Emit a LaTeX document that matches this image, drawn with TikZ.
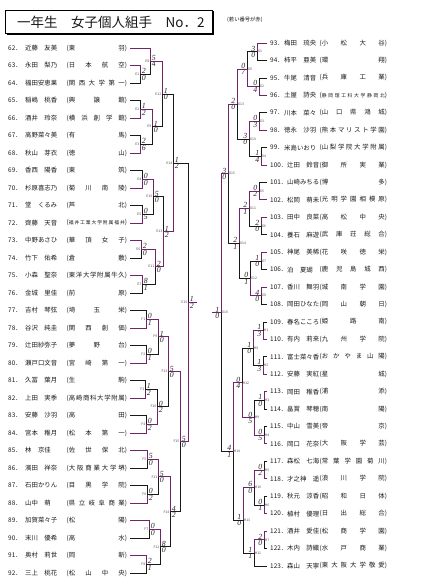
\documentclass[tikz,border=0pt]{standalone}
\usepackage{fontspec}
\setmainfont{Noto Sans CJK JP}
\newfontfamily\hand{Liberation Serif}
\usetikzlibrary{calc}
\definecolor{marker}{RGB}{112,36,106}
\newcommand{\fnorm}{\fontsize{6.4}{7}\selectfont}
\newcommand{\fsmall}{\fontsize{4.8}{5}\selectfont}
% spread the letters of a school name over its box
\def\spreadloop#1{\ifx\relax#1\else #1\expandafter\spreadnext\fi}
\def\spreadnext#1{\ifx\relax#1\else\hfill #1\expandafter\spreadnext\fi}

\begin{document}
\begin{tikzpicture}[x=1pt, y=-1pt,
  ent/.style={inner sep=0pt, anchor=west, text=black!90},
  ln/.style={draw=black!90, line width=0.6pt},
  hl/.style={draw=marker, line width=0.85pt},
  lab/.style={inner sep=0.6pt, font=\fontsize{3.4}{4}\selectfont, text=black!70},
  score/.style={inner sep=0.4pt, font=\hand\itshape\fontsize{7.8}{8}\selectfont, text=black!85}]
\useasboundingbox (0,0) rectangle (428,585);

% Title
\node[draw, line width=0.9pt, minimum width=207pt, minimum height=23pt, inner sep=0pt, anchor=north west] (title) at (5,10) {};
\draw[line width=1.3pt] ([xshift=1.5pt,yshift=-0.8pt]title.south west) -- ([xshift=0.8pt,yshift=-0.8pt]title.south east) -- ([xshift=0.8pt,yshift=-1.5pt]title.north east);
\node[ent, font=\fontsize{13.5}{14}\selectfont] (titletext) at (17,22) {一年生　女子個人組手　No．2};
\node[ent, font=\fontsize{5.3}{6}\selectfont] (note) at (227,20) {(若い番号が赤)};

% Entries, left half
\foreach \n/\nm/\scl/\fsz in {
  62/近藤　友美/東羽/\fnorm, 63/永田　梨乃/日本航空/\fnorm, 64/福田安恵果/関西大学第一/\fnorm,
  65/稲嶋　桃香/興譲館/\fnorm, 66/酒井　玲奈/横浜創学館/\fnorm, 67/高野菜々美/有馬/\fnorm,
  68/秋山　芽衣/徳山/\fnorm, 69/香西　陽香/東筑/\fnorm, 70/杉原喜志乃/菊川南陵/\fnorm,
  71/堂　くるみ/芦北/\fnorm, 72/齊藤　天音/福井工業大学附属福井/\fsmall, 73/中野あさひ/華頂女子/\fnorm,
  74/竹下　佑希/倉敷/\fnorm, 75/小森　聖奈/東洋大学附属牛久/\fnorm, 76/金城　里佳/前原/\fnorm,
  77/吉村　琴弦/埼玉栄/\fnorm, 78/谷沢　純圭/関西創価/\fnorm, 79/辻田紗弥子/夢野台/\fnorm,
  80/瀬戸口文音/宮崎第一/\fnorm, 81/久冨　葉月/生駒/\fnorm, 82/上田　実季/高崎商科大学附属/\fnorm,
  83/安藤　沙羽/高田/\fnorm, 84/宮本　稚月/松本第一/\fnorm, 85/林　京佳/佐世保北/\fnorm,
  86/濱田　祥奈/大阪商業大学堺/\fnorm, 87/石田かりん/目黒学院/\fnorm, 88/山中　萌/県立岐阜商業/\fnorm,
  89/加賀菜々子/松陽/\fnorm, 90/末川　優希/高水/\fnorm, 91/奥村　莉世/岡新/\fnorm,
  92/三上　桃花/松山中央/\fnorm}{
  \pgfmathsetmacro\yy{48+(\n-62)*17.5}
  \node[ent, font=\fnorm] (num\n) at (8,\yy) {\n．};
  \node[ent, font=\fnorm] (name\n) at (25,\yy) {\nm};
  \node[ent, font=\fnorm] (sch\n) at (66.5,\yy) {(\makebox[56pt]{\fsz\expandafter\spreadloop\scl\relax})};
  \coordinate (p\n) at (130,\yy);
}

% Entries, right half
\foreach \n/\nm/\scl/\fsz in {
  93/梅田　琉央/小松大谷/\fnorm, 94/柿平　亜美/環翔/\fnorm, 95/牛尾　清音/兵庫工業/\fnorm,
  96/土屋　詩央/静岡理工科大学静岡北/\fsmall, 97/川本　菜々/山口県鴻城/\fnorm, 98/徳永　沙羽/熊本マリスト学園/\fnorm,
  99/米島いおり/山梨学院大学附属/\fnorm, 100/辻田　鈴音/御所実業/\fnorm, 101/山崎みちる/博多/\fnorm,
  102/松岡　萌未/光明学園相模原/\fnorm, 103/田中　良菜/高松中央/\fnorm, 104/養石　麻遊/武庫荘総合/\fnorm,
  105/神尾　美稀/花咲徳栄/\fnorm, 106/泊　夏瑚/鹿児島城西/\fnorm, 107/香川　舞羽/城南学園/\fnorm,
  108/岡田ひなた/岡山朝日/\fnorm, 109/春名こころ/姫路南/\fnorm, 110/有内　莉来/九州学院/\fnorm,
  111/富士菜々香/おかやま山陽/\fnorm, 112/安藤　実紅/星城/\fnorm, 113/岡田　稚香/浦添/\fnorm,
  114/畠賞　琴穂/南陽/\fnorm, 115/中山　雪美/帝京/\fnorm, 116/岡口　花奈/大阪学芸/\fnorm,
  117/森松　七海/常葉学園菊川/\fnorm, 118/才之神　遥/浪川学院/\fnorm, 119/秋元　涼香/昭和日体/\fnorm,
  120/植村　優理/日出総合/\fnorm, 121/酒井　愛佳/松商学園/\fnorm, 122/木内　詩織/水戸商業/\fnorm,
  123/森山　天寧/東大阪大学敬愛/\fnorm}{
  \pgfmathsetmacro\yy{43+(\n-93)*17.43}
  \pgfmathsetmacro\nx{\n<100 ? 284 : 287}
  \node[ent, font=\fnorm] (num\n) at (270,\yy) {\n．};
  \node[ent, font=\fnorm] (name\n) at (\nx,\yy) {\nm};
  \node[ent, font=\fnorm] (sch\n) at (319.5,\yy) {(\makebox[63pt]{\fsz\expandafter\spreadloop\scl\relax})};
  \coordinate (q\n) at (267,\yy);
}

% Bouts, left half: name/upper/lower/x/upper score/lower score/styles
\foreach \m/\a/\b/\x/\s/\t/\wa/\wb in {
  E1/p63/p64/140/2/0/hl/ln, E8/p62/E1/150/5/4/hl/ln, E2/p65/p66/140/1/2/ln/hl,
  E3/p67/p68/140/2/6/ln/hl, E9/E2/E3/152/1/0/hl/ln, E12/E8/E9/162/1/0/hl/ln,
  E4/p69/p70/142/0/0/ln/hl, E5/p71/p72/142/0/5/ln/hl, E10/E4/E5/153/5/0/hl/ln,
  E6/p73/p74/141/2/0/hl/ln, E7/p75/p76/142/8/1/hl/ln, E11/E6/E7/155/2/0/hl/ln,
  E13/E10/E11/163/1/2/ln/hl, E14/E12/E13/173/1/2/ln/hl,
  F1/p77/p78/146/0/1/ln/hl, F2/p79/p80/146/0/1/ln/hl, F9/F1/F2/158/1/0/hl/ln,
  F3/p81/p82/145/1/2/ln/hl, F4/p83/p84/146/0/2/ln/hl, F10/F3/F4/157/0/2/ln/hl,
  F13/F9/F10/168/5/0/hl/ln, F5/p85/p86/147/5/0/hl/ln, F6/p87/p88/147/0/2/ln/hl,
  F11/F5/F6/158/5/0/hl/ln, F7/p89/p90/149/0/0/hl/ln, F8/p91/p92/146/2/1/hl/ln,
  F12/F7/F8/160/8/0/hl/ln, F14/F11/F12/170/4/2/hl/ln, F15/F13/F14/180/5/0/hl/ln,
  E15/E14/F15/188/1/2/ln/hl}{
  \coordinate (c\m) at ($(\a)!.5!(\b)$);
  \coordinate (\m) at (\x,0 |- c\m);
  \draw[\wa] (\a) -| (\m);
  \draw[\wb] (\b) -| (\m);
  \node[lab, anchor=east] (l\m) at (\m) {\m};
  \node[score, anchor=south west] (s\m) at ([xshift=1.2pt]\m) {\s};
  \node[score, anchor=north west] (t\m) at ([xshift=1.2pt]\m) {\t};
}

% Bouts, right half
\foreach \m/\a/\b/\x/\s/\t/\wa/\wb in {
  G1/q93/q94/257/3/0/hl/ln, G2/q95/q96/259/0/4/ln/hl, G9/G1/G2/247/0/7/ln/hl,
  G3/q97/q98/259/0/3/ln/hl, G4/q99/q100/261/1/4/ln/hl, G10/G3/G4/249/3/0/hl/ln,
  G13/G9/G10/237/2/0/hl/ln, G5/q101/q102/259/0/2/ln/hl, G6/q103/q104/261/2/0/hl/ln,
  G11/G5/G6/249/2/1/hl/ln, G7/q105/q106/261/1/0/hl/ln, G8/q107/q108/261/4/0/hl/ln,
  G12/G7/G8/250/0/1/ln/hl, G14/G11/G12/239/2/1/hl/ln, G15/G13/G14/228/3/0/hl/ln,
  H1/q109/q110/263/1/3/ln/hl, H2/q111/q112/263/1/3/ln/hl, H8/H1/H2/253/1/0/hl/ln,
  H3/q113/q114/264/1/0/hl/ln, H4/q115/q116/264/0/5/ln/hl, H9/H3/H4/254/0/5/ln/hl,
  H12/H8/H9/242/0/4/ln/hl, H5/q117/q118/264/0/2/ln/hl, H6/q119/q120/264/0/1/ln/hl,
  H10/H5/H6/254/6/0/hl/ln, H7/q121/q122/264/2/0/hl/ln, H11/H7/q123/254/1/1/hl/ln,
  H13/H10/H11/243/1/0/hl/ln, H14/H12/H13/233/4/1/hl/ln,
  G16/G15/H14/221/1/0/hl/ln}{
  \coordinate (c\m) at ($(\a)!.5!(\b)$);
  \coordinate (\m) at (\x,0 |- c\m);
  \draw[\wa] (\a) -| (\m);
  \draw[\wb] (\b) -| (\m);
  \node[lab, anchor=west] (l\m) at (\m) {\m};
  \node[score, anchor=south east] (s\m) at ([xshift=-1.2pt]\m) {\s};
  \node[score, anchor=north east] (t\m) at ([xshift=-1.2pt]\m) {\t};
}

% Stubs of the two finalists
\coordinate (E15o) at (197,0 |- E15);
\coordinate (G16o) at (212,0 |- G16);
\draw[hl] (E15) -- (E15o);
\draw[hl] (G16) -- (G16o);
\end{tikzpicture}
\end{document}
